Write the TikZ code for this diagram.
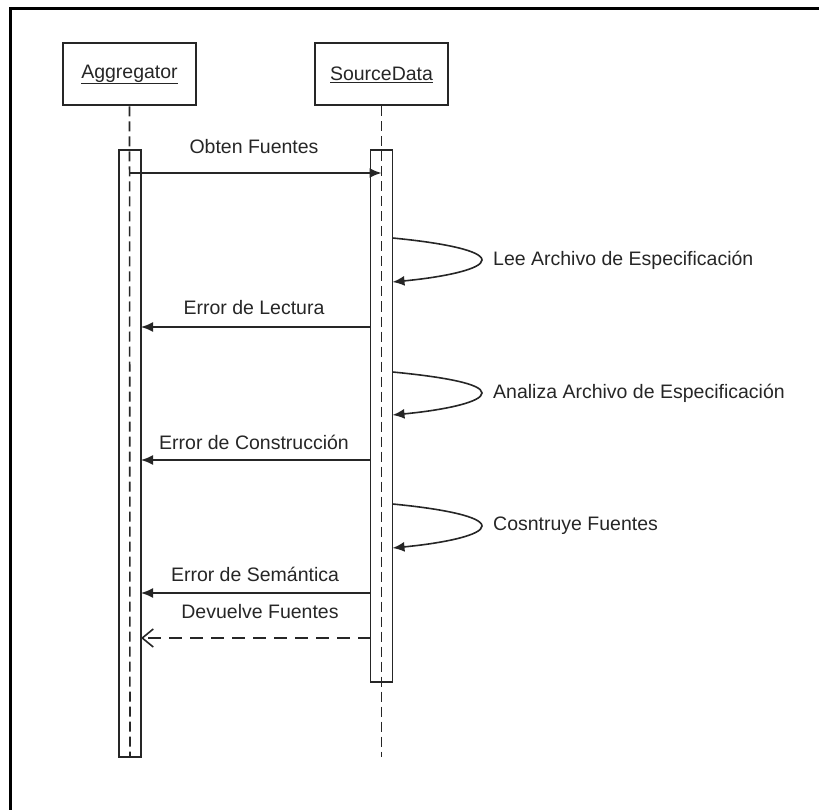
\documentclass[tikz,border=0pt]{standalone}
\usepackage{fontspec}
\setmainfont{Liberation Sans}
\usetikzlibrary{arrows.meta}
\begin{document}
\begin{tikzpicture}[x=1pt,y=-1pt,
  ink/.style={draw=black!85, line width=1.6pt},
  objbox/.style={ink, line width=2pt, minimum width=133pt, minimum height=62pt,
    inner sep=0pt, font=\fontsize{19.5}{23}\selectfont, text=black!85},
  actbar/.style={ink, minimum width=22pt, inner sep=0pt},
  life/.style={draw=black!85, line width=1.6pt, dash pattern=on 10pt off 5pt},
  msg/.style={ink, -{Latex[length=12pt,width=10pt]}},
  ret/.style={ink, dash pattern=on 13pt off 8pt, -{Straight Barb[length=11pt,width=18pt]}},
  lbl/.style={font=\fontsize{19.5}{23}\selectfont, text=black!85, inner sep=0pt}
]
\useasboundingbox (0,0) rectangle (819,810);
% frame edges
\draw[line width=3pt] (10,810) -- (10,8.5) -- (819,8.5);

% objects
\node[objbox] (agg) at (129.5,74.5) {\underline{Aggregator}};
\node[objbox] (src) at (381.5,74.5) {\underline{SourceData}};

% lifeline ends
\coordinate (aggend) at (130,757);
\coordinate (srcend) at (381.5,757);
\draw[life] (agg.south) -- (aggend);
\draw[life] (src.south) -- (srcend);

% activation bars
\node[actbar, minimum height=607pt] (aggbar) at (130,453.5) {};
\node[actbar, minimum height=532pt] (srcbar) at (381.5,416) {};

% message end points
\coordinate (m1a) at (130,173);   \coordinate (m1b) at (381.5,173);
\coordinate (e1a) at (370.5,327); \coordinate (e1b) at (141,327);
\coordinate (e2a) at (370.5,460); \coordinate (e2b) at (141,460);
\coordinate (e3a) at (370.5,593); \coordinate (e3b) at (141,593);
\coordinate (r1a) at (370.5,638); \coordinate (r1b) at (141,638);

% self calls
\coordinate (s1a) at (392.5,238); \coordinate (s1t) at (482,260); \coordinate (s1b) at (392.5,282);
\coordinate (s2a) at (392.5,372); \coordinate (s2t) at (482,393); \coordinate (s2b) at (392.5,415);
\coordinate (s3a) at (392.5,504); \coordinate (s3t) at (482,526); \coordinate (s3b) at (392.5,548);

% calls and returns
\draw[msg] (m1a) -- (m1b);
\node[lbl] (l1) at (254,147) {Obten Fuentes};

\draw[msg] (s1a) .. controls (445,243) and (482,251) .. (s1t) .. controls (482,269) and (445,277) .. (s1b);
\node[lbl, anchor=west] (ls1) at (493,260) {Lee Archivo de Especificación};

\draw[msg] (e1a) -- (e1b);
\node[lbl] (le1) at (254,308) {Error de Lectura};

\draw[msg] (s2a) .. controls (445,377) and (482,384) .. (s2t) .. controls (482,402) and (445,410) .. (s2b);
\node[lbl, anchor=west] (ls2) at (493,393) {Analiza Archivo de Especificación};

\draw[msg] (e2a) -- (e2b);
\node[lbl] (le2) at (254,442) {Error de Construcción};

\draw[msg] (s3a) .. controls (445,509) and (482,517) .. (s3t) .. controls (482,535) and (445,543) .. (s3b);
\node[lbl, anchor=west] (ls3) at (493,526) {Cosntruye Fuentes};

\draw[msg] (e3a) -- (e3b);
\node[lbl] (le3) at (255,574) {Error de Semántica};

\draw[ret] (r1a) -- (r1b);
\node[lbl] (lr1) at (260,612) {Devuelve Fuentes};
\end{tikzpicture}
\end{document}
